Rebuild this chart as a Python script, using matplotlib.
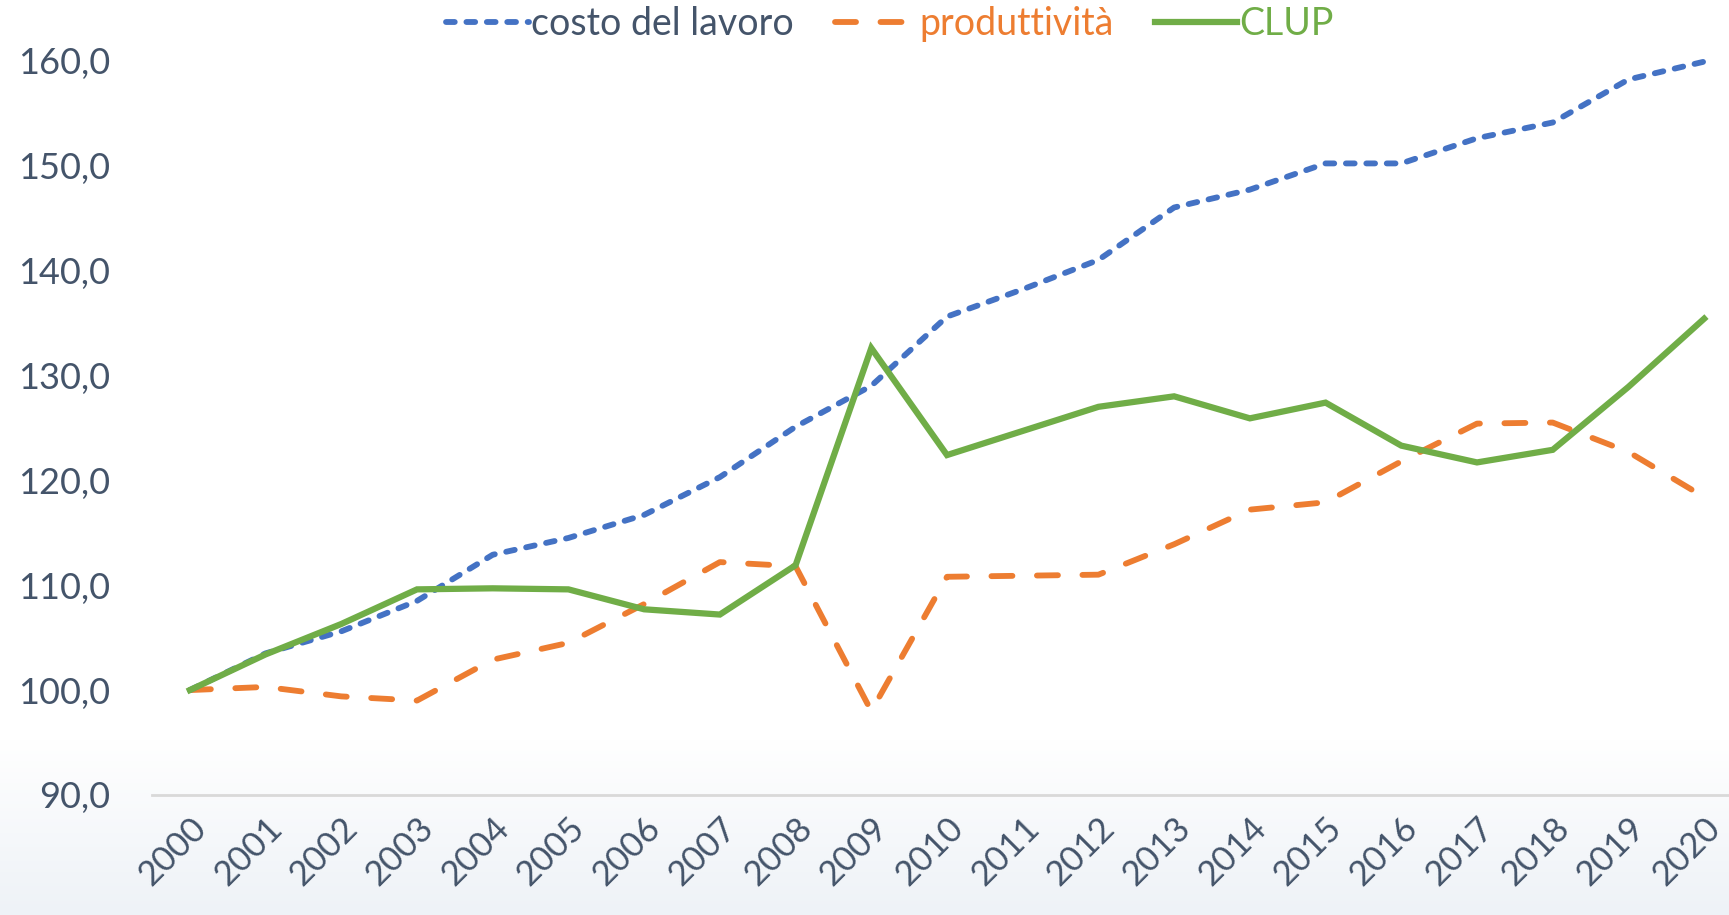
import matplotlib
matplotlib.use('Agg')
import matplotlib.pyplot as plt
import numpy as np
from matplotlib.colors import LinearSegmentedColormap

anni = [str(a) for a in range(2000, 2021)]
costo_lavoro = [100.0, 103.5, 105.6, 108.5, 112.9, 114.5, 116.7, 120.3, 125.1, 129.0,
                135.6, 138.2, 141.0, 146.0, 147.7, 150.2, 150.2, 152.6, 154.1, 158.2, 159.9]
produttivita = [100.0, 100.3, 99.4, 99.0, 102.9, 104.5, 108.2, 112.2, 111.8, 98.0,
                110.8, 110.9, 111.0, 113.9, 117.2, 117.9, 121.8, 125.4, 125.5, 122.7, 118.4]
clup = [100.0, 103.4, 106.3, 109.6, 109.7, 109.6, 107.7, 107.2, 111.9, 132.6,
        122.4, 124.7, 127.0, 128.0, 125.9, 127.4, 123.3, 121.7, 122.9, 128.9, 135.4]
y_ticks = [90, 100, 110, 120, 130, 140, 150, 160]

testo = '#44546A'
blu = '#4472C4'
arancio = '#ED7D31'
verde = '#70AD47'

plt.rcParams['font.family'] = ['Lato', 'DejaVu Sans']

fig = plt.figure(figsize=(17.29, 9.15), dpi=100)

# sfondo sfumato in basso
bg = fig.add_axes([0, 0, 1, 1], zorder=-10)
grad = np.linspace(0, 1, 256).reshape(-1, 1)
grad = np.clip(grad / 0.19, 0, 1)
cmap = LinearSegmentedColormap.from_list('sf', ['#EEF2F7', '#FFFFFF'])
bg.imshow(grad, aspect='auto', cmap=cmap, extent=[0, 1, 0, 1], origin='lower')
bg.axis('off')

ax = fig.add_axes([152 / 1729, 1 - 795 / 915, (1742 - 152) / 1729, (795 - 60.6) / 915])
ax.patch.set_alpha(0)
x = np.arange(len(anni))

ax.plot(x, costo_lavoro, color=blu, lw=4.2, dashes=(1.5, 2.0), dash_capstyle='round',
        label='costo del lavoro', clip_on=False, zorder=3)
ax.plot(x, produttivita, color=arancio, lw=4.2, dashes=(3.6, 4.2), dash_capstyle='round',
        label='produttività', clip_on=False, zorder=2)
ax.plot(x, clup, color=verde, lw=4.5, solid_joinstyle='miter', label='CLUP',
        clip_on=False, zorder=4)

ax.set_xlim(-0.5, 20.5)
ax.set_ylim(90, 160)
ax.set_yticks(y_ticks)
ax.set_yticklabels([f'{v:.1f}'.replace('.', ',') for v in y_ticks], fontsize=26, color=testo)
ax.set_xticks(x)
ax.set_xticklabels(anni, rotation=45, ha='right', rotation_mode='anchor', fontsize=25, color=testo)
ax.tick_params(length=0)
ax.tick_params(axis='y', pad=30)
ax.tick_params(axis='x', pad=12)
for s in ['top', 'right', 'left']:
    ax.spines[s].set_visible(False)
ax.spines['bottom'].set_color('#D9D9D9')
ax.spines['bottom'].set_linewidth(2)

leg = fig.legend(loc='center', bbox_to_anchor=(890 / 1729, 1 - 24 / 915), ncol=3, frameon=False,
                 fontsize=27, handlelength=2.2, handletextpad=0.05, columnspacing=1.1)
for t, c in zip(leg.get_texts(), [testo, arancio, verde]):
    t.set_color(c)

fig.savefig('out.png', dpi=100)
